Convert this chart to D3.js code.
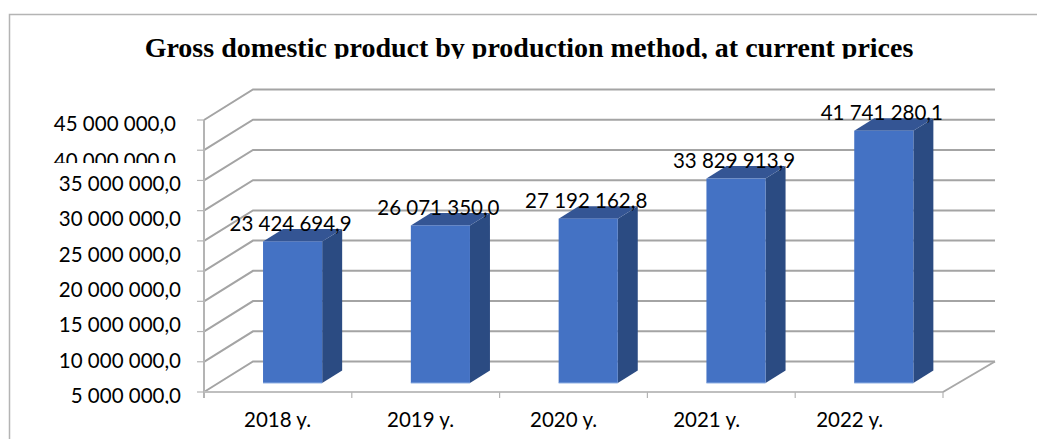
<!DOCTYPE html>
<html>
<head>
<meta charset="utf-8">
<script src="https://cdn.jsdelivr.net/npm/d3@7"></script>
<style>
html,body{margin:0;padding:0;background:#fff;overflow:hidden}
svg{display:block}
</style>
</head>
<body>
<script>
const titleText = "Gross domestic product by production method, at current prices";
const categories = ["2018 y.", "2019 y.", "2020 y.", "2021 y.", "2022 y."];
const gdpValues = [23424694.9, 26071350.0, 27192162.8, 33829913.9, 41741280.1];
const gridValues = [0, 5e6, 10e6, 15e6, 20e6, 25e6, 30e6, 35e6, 40e6, 45e6];
const axisLabels = [5e6, 10e6, 15e6, 20e6, 25e6, 30e6, 35e6, 40e6, 45e6];

const W = 1037, H = 439;
const LBL = "Lato, 'Open Sans', sans-serif";
const fmt = d3.formatLocale({decimal: ",", thousands: " ", grouping: [3]}).format(",.1f");

const svg = d3.select("body").append("svg").attr("width", W).attr("height", H);
const defs = svg.append("defs");
const clip = (id, y2) => defs.append("clipPath").attr("id", id).append("rect")
  .attr("x", 0).attr("y", 0).attr("width", W).attr("height", y2);
clip("c-title", 58.7); clip("c-40", 163); clip("c-5", 404); clip("c-x", 429.5);

// outer frame
svg.append("path").attr("d", `M9.5,${H} V14.5 H${W}`).attr("fill", "none")
  .attr("stroke", "#b4b4b4").attr("stroke-width", 1.5);

// title
svg.append("text").attr("x", 529).attr("y", 56.5).attr("text-anchor", "middle")
  .attr("clip-path", "url(#c-title)")
  .attr("font-family", "'Liberation Serif', serif").attr("font-weight", "bold")
  .attr("font-size", 28).attr("fill", "#000").text(titleText);

// scales
const y = d3.scaleLinear().domain([0, 45e6]).range([392, 120]);
const x = d3.scaleBand().domain(categories).range([204, 943]).paddingInner(0.6).paddingOuter(0.3);
const xEdge = i => 204 + i * x.step();
const depthX = 49, depthY = 30.5;         // floor / wall depth
const barDX = 14.7, barDY = 9;            // bar sits inside the depth
const barDepthX = 20, barDepthY = 12.5;   // bar's own depth

// walls: back grid lines with their side-wall diagonals
const gridCol = "#a4a4a4";
const grid = svg.append("g").attr("fill", "none").attr("stroke", gridCol).attr("stroke-width", 2);
grid.selectAll("path").data(gridValues).join("path")
  .attr("d", d => `M204,${y(d)} L${204 + depthX},${y(d) - depthY} H${943 + depthX + 3}`);

// axes
const axisCol = "#b4b4b4";
const ax = svg.append("g").attr("stroke", axisCol).attr("fill", "none");
ax.append("path").attr("stroke-width", 2).attr("d", `M204,${y(45e6)} V${y(0) + 6}`);
ax.append("path").attr("stroke-width", 2).attr("stroke", "#bfbfbf").attr("d", `M204,${y(0)} H943`);
ax.selectAll(".yt").data(gridValues).join("path").attr("class", "yt").attr("stroke-width", 1.2)
  .attr("d", d => `M197,${y(d)} H204`);
ax.selectAll(".xt").data(d3.range(categories.length + 1)).join("path").attr("class", "xt").attr("stroke-width", 1.2)
  .attr("d", i => `M${xEdge(i)},${y(0)} V${y(0) + 6}`);
ax.append("path").attr("stroke-width", 2).attr("stroke", "#a8a8a8")
  .attr("d", `M943,${y(0)} L${943 + depthX + 3},${y(0) - depthY}`);

// bars
const bars = svg.append("g").selectAll("g").data(gdpValues).join("g");
const bx = (d, i) => x(categories[i]) + barDX;
const by = d => y(d) - barDY;
const b0 = y(0) - barDY;
bars.append("path").attr("fill", "#2b4b82").attr("d", (d, i) => {
  const r = bx(d, i) + x.bandwidth();
  return `M${r},${by(d)} L${r + barDepthX},${by(d) - barDepthY} V${b0 - barDepthY} L${r},${b0} Z`;
});
bars.append("path").attr("fill", "#345594").attr("d", (d, i) => {
  const l = bx(d, i), r = l + x.bandwidth();
  return `M${l},${by(d)} L${l + barDepthX},${by(d) - barDepthY} H${r + barDepthX} L${r},${by(d)} Z`;
});
bars.append("rect").attr("fill", "#4472c4").attr("x", bx).attr("y", by)
  .attr("width", x.bandwidth()).attr("height", d => b0 - by(d));
bars.append("path").attr("stroke", "#8fb0e4").attr("stroke-width", 1).attr("fill", "none")
  .attr("d", (d, i) => `M${bx(d, i)},${b0} H${bx(d, i) + x.bandwidth()}`);

// value labels
const LSIZE = 20.5;
bars.append("text").attr("text-anchor", "middle")
  .attr("x", (d, i) => bx(d, i) + x.bandwidth() / 2 - 2)
  .attr("y", d => by(d) - 10.5)
  .attr("font-family", LBL).attr("font-size", LSIZE).attr("fill", "#000")
  .text(d => fmt(d));

// value-axis labels (their spacing is independent of the grid in the reference)
const yLabel = d3.scaleLinear().domain([5e6, 35e6]).range([403, 191]);
const labelNudge = new Map([[45e6, [-5, 11]], [40e6, [-5, 12]]]);
svg.append("g").selectAll("text").data(axisLabels).join("text")
  .attr("text-anchor", "end")
  .attr("x", d => 181 + (labelNudge.get(d) || [0, 0])[0])
  .attr("y", d => yLabel(d) + (labelNudge.get(d) || [0, 0])[1])
  .attr("clip-path", d => d === 40e6 ? "url(#c-40)" : d === 5e6 ? "url(#c-5)" : null)
  .attr("font-family", LBL).attr("font-size", LSIZE).attr("fill", "#000")
  .text(d => fmt(d));

// category labels
const xLabel = d3.scalePoint().domain(categories).range([277.5, 849.7]);
svg.append("g").selectAll("text").data(categories).join("text")
  .attr("text-anchor", "middle").attr("x", d => xLabel(d)).attr("y", 426.7)
  .attr("clip-path", "url(#c-x)")
  .attr("font-family", LBL).attr("font-size", LSIZE).attr("fill", "#000")
  .text(d => d);
</script>
</body>
</html>
